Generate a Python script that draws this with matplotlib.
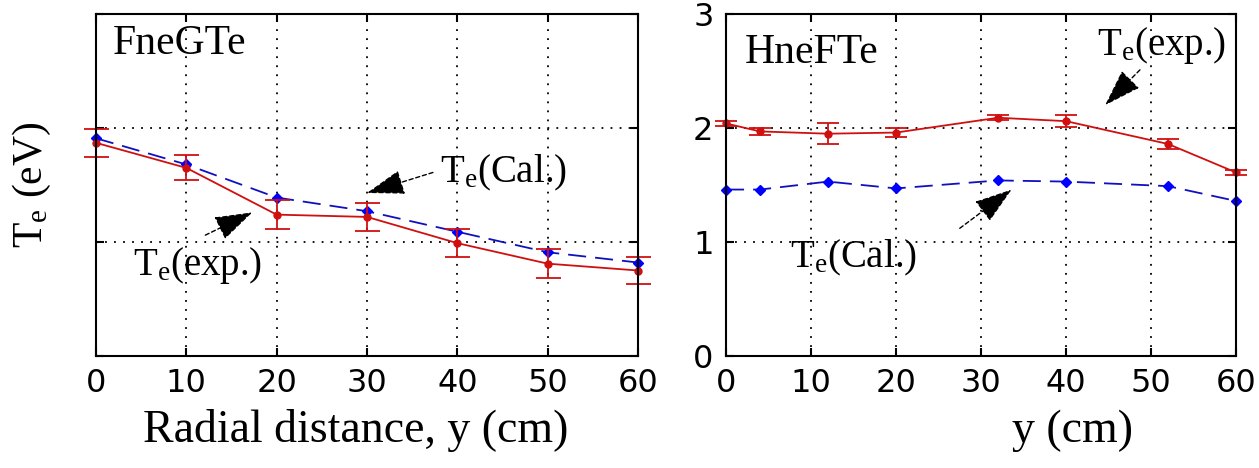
import numpy as np
import matplotlib
matplotlib.use('Agg')
import matplotlib.pyplot as plt

params = {'mathtext.default': 'regular',
          'font.family': 'serif',
          'font.serif': ['Liberation Serif', 'DejaVu Serif'],
          'axes.linewidth': 1.5,
          }
plt.rcParams.update(params)

# left panel: FneGTe
y_left = [0, 10, 20, 30, 40, 50, 60]
te_exp_left = [1.87, 1.65, 1.24, 1.22, 0.99, 0.81, 0.75]
te_exp_left_err = [0.12, 0.11, 0.13, 0.12, 0.12, 0.13, 0.12]
te_cal_left = [1.91, 1.68, 1.39, 1.27, 1.09, 0.91, 0.82]

# right panel: HneFTe
y_right = [0, 4, 12, 20, 32, 40, 52, 60]
te_exp_right = [2.04, 1.97, 1.95, 1.96, 2.09, 2.06, 1.86, 1.61]
te_exp_right_err = [0.02, 0.03, 0.09, 0.04, 0.02, 0.05, 0.04, 0.02]
te_cal_right = [1.46, 1.46, 1.53, 1.47, 1.54, 1.53, 1.49, 1.36]

W, H = 1259, 468
fig = plt.figure(figsize=(W / 100, H / 100), dpi=100)
ax1 = fig.add_axes([96 / W, 112 / H, 542 / W, 342 / H])
ax2 = fig.add_axes([726 / W, 112 / H, 510 / W, 342 / H])


def style_axes(ax, show_ylabels):
    ax.set_xlim(0, 60)
    ax.set_ylim(0, 3)
    ax.set_xticks([0, 10, 20, 30, 40, 50, 60])
    ax.set_yticks([0, 1, 2, 3])
    ax.grid(True, color='black', linestyle=(0, (1, 4)), linewidth=1.3)
    ax.tick_params(direction='in', length=6, width=1.5, top=True, right=True, pad=9)
    for lab in ax.get_xticklabels() + ax.get_yticklabels():
        lab.set_fontfamily('DejaVu Sans')
        lab.set_fontsize(23)
    if not show_ylabels:
        ax.set_yticklabels([])


arrow = dict(arrowstyle='-|>,head_length=0.85,head_width=0.28', color='black',
             linestyle=(0, (3, 2)), lw=1.0, shrinkA=0, shrinkB=0,
             mutation_scale=28)
cal_style = dict(color='#1010c0', linestyle=(0, (10, 5)), lw=1.3,
                 marker='D', ms=5, mfc='blue', mec='blue', clip_on=False)
exp_style = dict(color='#d01010', lw=1.3, marker='o', ms=5, elinewidth=1.3,
                 capthick=1.3, clip_on=False)

# left
ax1.plot(y_left, te_cal_left, **cal_style)
ax1.errorbar(y_left, te_exp_left, yerr=te_exp_left_err, capsize=9, **exp_style)
style_axes(ax1, False)
ax1.set_xlabel('Radial distance, y (cm)', fontsize=33)
ax1.xaxis.set_label_coords(0.48, -0.155)
ax1.set_ylabel('$T_e$ (eV)', fontsize=30, labelpad=22)
ax1.text(1.9, 2.65, 'FneGTe', fontsize=30, va='baseline', ha='left')
ax1.text(38.1, 1.52, '$T_e$(Cal.)', fontsize=28, va='baseline', ha='left')
ax1.annotate('', xy=(30.0, 1.43), xytext=(37.3, 1.61), arrowprops=arrow)
ax1.text(4.1, 0.71, '$T_e$(exp.)', fontsize=28, va='baseline', ha='left')
ax1.annotate('', xy=(17.3, 1.26), xytext=(12.1, 1.06), arrowprops=arrow)

# right
ax2.plot(y_right, te_cal_right, **cal_style)
ax2.errorbar(y_right, te_exp_right, yerr=te_exp_right_err, capsize=8, **exp_style)
style_axes(ax2, True)
ax2.set_xlabel('y (cm)', fontsize=33)
ax2.xaxis.set_label_coords(0.68, -0.155)
ax2.text(2.2, 2.57, 'HneFTe', fontsize=30, va='baseline', ha='left')
ax2.text(43.6, 2.64, '$T_e$(exp.)', fontsize=28, va='baseline', ha='left')
ax2.annotate('', xy=(44.6, 2.20), xytext=(48.7, 2.51), arrowprops=arrow)
ax2.text(7.5, 0.78, '$T_e$(Cal.)', fontsize=28, va='baseline', ha='left')
ax2.annotate('', xy=(33.6, 1.46), xytext=(27.5, 1.12), arrowprops=arrow)

fig.savefig('out.png', dpi=100)
